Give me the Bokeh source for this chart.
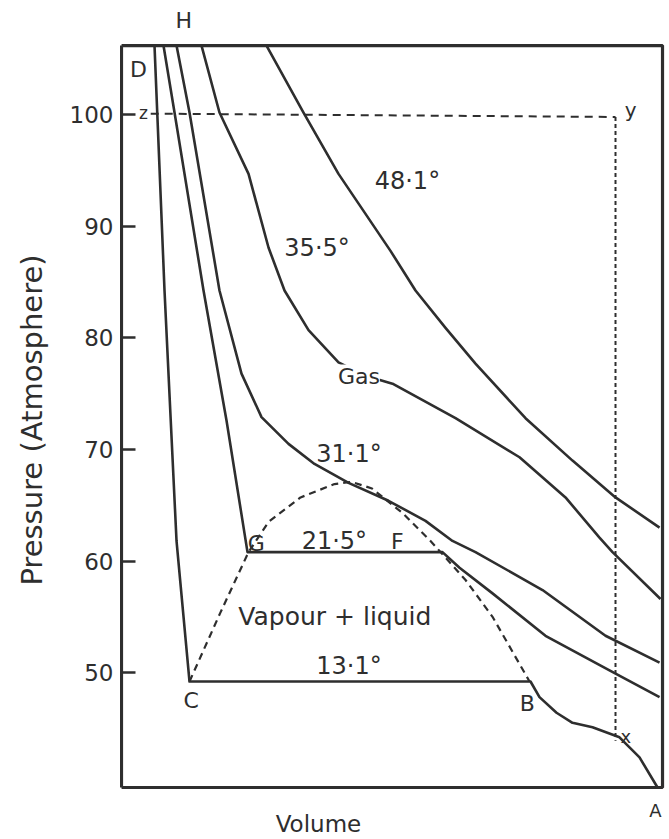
from bokeh.plotting import figure
from bokeh.models import Label, FixedTicker, Range1d, BoxAnnotation
from bokeh.embed import file_html
from bokeh.resources import INLINE

# Andrews' isotherms of CO2: volume (arbitrary units across the frame), pressure (atm)
v_13 = [6.1, 7.95, 10.17, 12.57, 75.6, 77.26, 80.41, 83.36, 87.06, 92.05, 95.75, 99.08]
p_13 = [106.2, 84.25, 61.8, 49.2, 49.2, 47.8, 46.4, 45.5, 45.1, 44.2, 42.4, 39.7]

v_21 = [7.76, 9.8, 15.16, 19.41, 23.29, 59.33, 62.48, 68.58, 78.37, 90.2, 99.45]
p_21 = [106.2, 100.2, 84.25, 72.6, 60.8, 60.8, 59.4, 57.1, 53.3, 50.2, 47.8]

v_31 = [10.17, 12.57, 18.11, 22.18, 25.88, 30.87, 35.67, 41.96, 49.35, 56.19, 61.18, 65.43, 77.82, 89.46, 99.45]
p_31 = [106.2, 100.2, 84.25, 76.8, 72.9, 70.5, 68.7, 67.0, 65.4, 63.6, 61.8, 60.8, 57.4, 53.3, 50.9]

v_35 = [14.79, 18.11, 23.48, 27.17, 30.13, 34.57, 40.11, 45.1, 50.09, 61.74, 73.57, 82.07, 88.35, 90.76, 99.63]
p_35 = [106.2, 100.2, 94.7, 88.1, 84.25, 80.7, 77.8, 76.6, 75.9, 72.8, 69.3, 65.7, 62.1, 60.8, 56.6]

v_48 = [26.8, 33.64, 40.11, 49.72, 54.34, 59.89, 65.43, 74.68, 83.36, 91.31, 99.45]
p_48 = [106.2, 100.2, 94.7, 87.8, 84.25, 80.9, 77.7, 72.8, 69.0, 65.7, 63.0]

# saturation dome (dashed)
v_dome = [12.57, 18.3, 23.48, 27.17, 33.09, 39.37, 42.5, 46.3, 51.94, 57.12, 63.59, 68.58, 75.42]
p_dome = [49.2, 55.4, 60.8, 63.5, 65.7, 66.9, 67.1, 66.5, 64.3, 61.8, 58.3, 55.0, 49.2]

# z-y dashed line and y-x dotted line
v_zy = [5.4, 91.31]
p_zy = [100.1, 99.8]
v_yx = [91.31, 91.31]
p_yx = [99.8, 43.9]

pressure_ticks = [50, 60, 70, 80, 90, 100]
v_min, v_max = 0, 100          # drawn volume box
p_min, p_max = 39.7, 106.2     # drawn pressure box

FONT = "DejaVu Sans"
INK = "#2e2e2e"

p = figure(width=669, height=839, output_backend="svg", toolbar_location=None,
           x_range=Range1d(0, 101.29), y_range=Range1d(35.04, 110.24),
           x_axis_location=None,
           min_border_left=121, min_border_right=0, min_border_top=0, min_border_bottom=0)
p.grid.visible = False
p.background_fill_color = "white"
p.border_fill_color = "white"
p.outline_line_color = None

p.add_layout(BoxAnnotation(left=v_min, right=v_max, bottom=p_min, top=p_max,
                           fill_alpha=0, line_color=INK, line_alpha=1.0, line_width=3.2))

ax = p.yaxis[0]
ax.bounds = (p_min, p_max)
ax.ticker = FixedTicker(ticks=pressure_ticks)
ax.axis_label = "Pressure (Atmosphere)"
ax.axis_label_text_font = FONT
ax.axis_label_text_font_size = "29px"
ax.axis_label_text_font_style = "normal"
ax.axis_label_text_color = INK
ax.axis_label_standoff = 18
ax.major_label_text_font = FONT
ax.major_label_text_font_size = "23px"
ax.major_label_text_color = INK
ax.major_label_standoff = 8
ax.major_tick_in = 14
ax.major_tick_out = 0
ax.major_tick_line_width = 2.5
ax.major_tick_line_color = INK
ax.minor_tick_line_color = None
ax.axis_line_color = INK
ax.axis_line_width = 3

for vs, ps in [(v_13, p_13), (v_21, p_21), (v_31, p_31), (v_35, p_35), (v_48, p_48)]:
    p.line(vs, ps, line_color=INK, line_width=2.6, line_join="round")

p.line(v_dome, p_dome, line_color=INK, line_width=2.2, line_dash="7 5")
p.line(v_zy, p_zy, line_color=INK, line_width=2, line_dash="8 6")
p.line(v_yx, p_yx, line_color=INK, line_width=2, line_dash="4 3")

labels = [
    ("H", 11.5, 108.45, "center", "22px", None),
    ("D", 3.14, 104.1, "center", "22px", None),
    ("z", 4.07, 100.2, "center", "17px", None),
    ("y", 94.1, 100.4, "center", "20px", None),
    ("x", 93.2, 44.3, "center", "18px", None),
    ("48·1°", 46.8, 94.1, "left", "24px", None),
    ("35·5°", 30.1, 88.1, "left", "24px", None),
    ("Gas", 40.0, 76.5, "left", "22px", "white"),
    ("31·1°", 36.0, 69.6, "left", "24px", None),
    ("21·5°", 33.3, 61.75, "left", "24px", None),
    ("F", 51.0, 61.75, "center", "22px", None),
    ("G", 24.9, 61.6, "center", "22px", None),
    ("Vapour + liquid", 21.6, 55.0, "left", "25px", None),
    ("13·1°", 36.0, 50.6, "left", "24px", None),
    ("C", 12.9, 47.5, "center", "22px", None),
    ("B", 75.0, 47.2, "center", "22px", None),
    ("A", 98.7, 37.6, "center", "18px", None),
    ("Volume", 36.4, 36.4, "center", "23px", None),
]
for txt, lx, ly, align, size, bg in labels:
    lab = Label(x=lx, y=ly, text=txt, text_font=FONT, text_font_size=size,
                text_color=INK, text_align=align, text_baseline="middle")
    if bg:
        lab.background_fill_color = bg
    p.add_layout(lab)

open("out.html", "w").write(file_html(p, INLINE))
